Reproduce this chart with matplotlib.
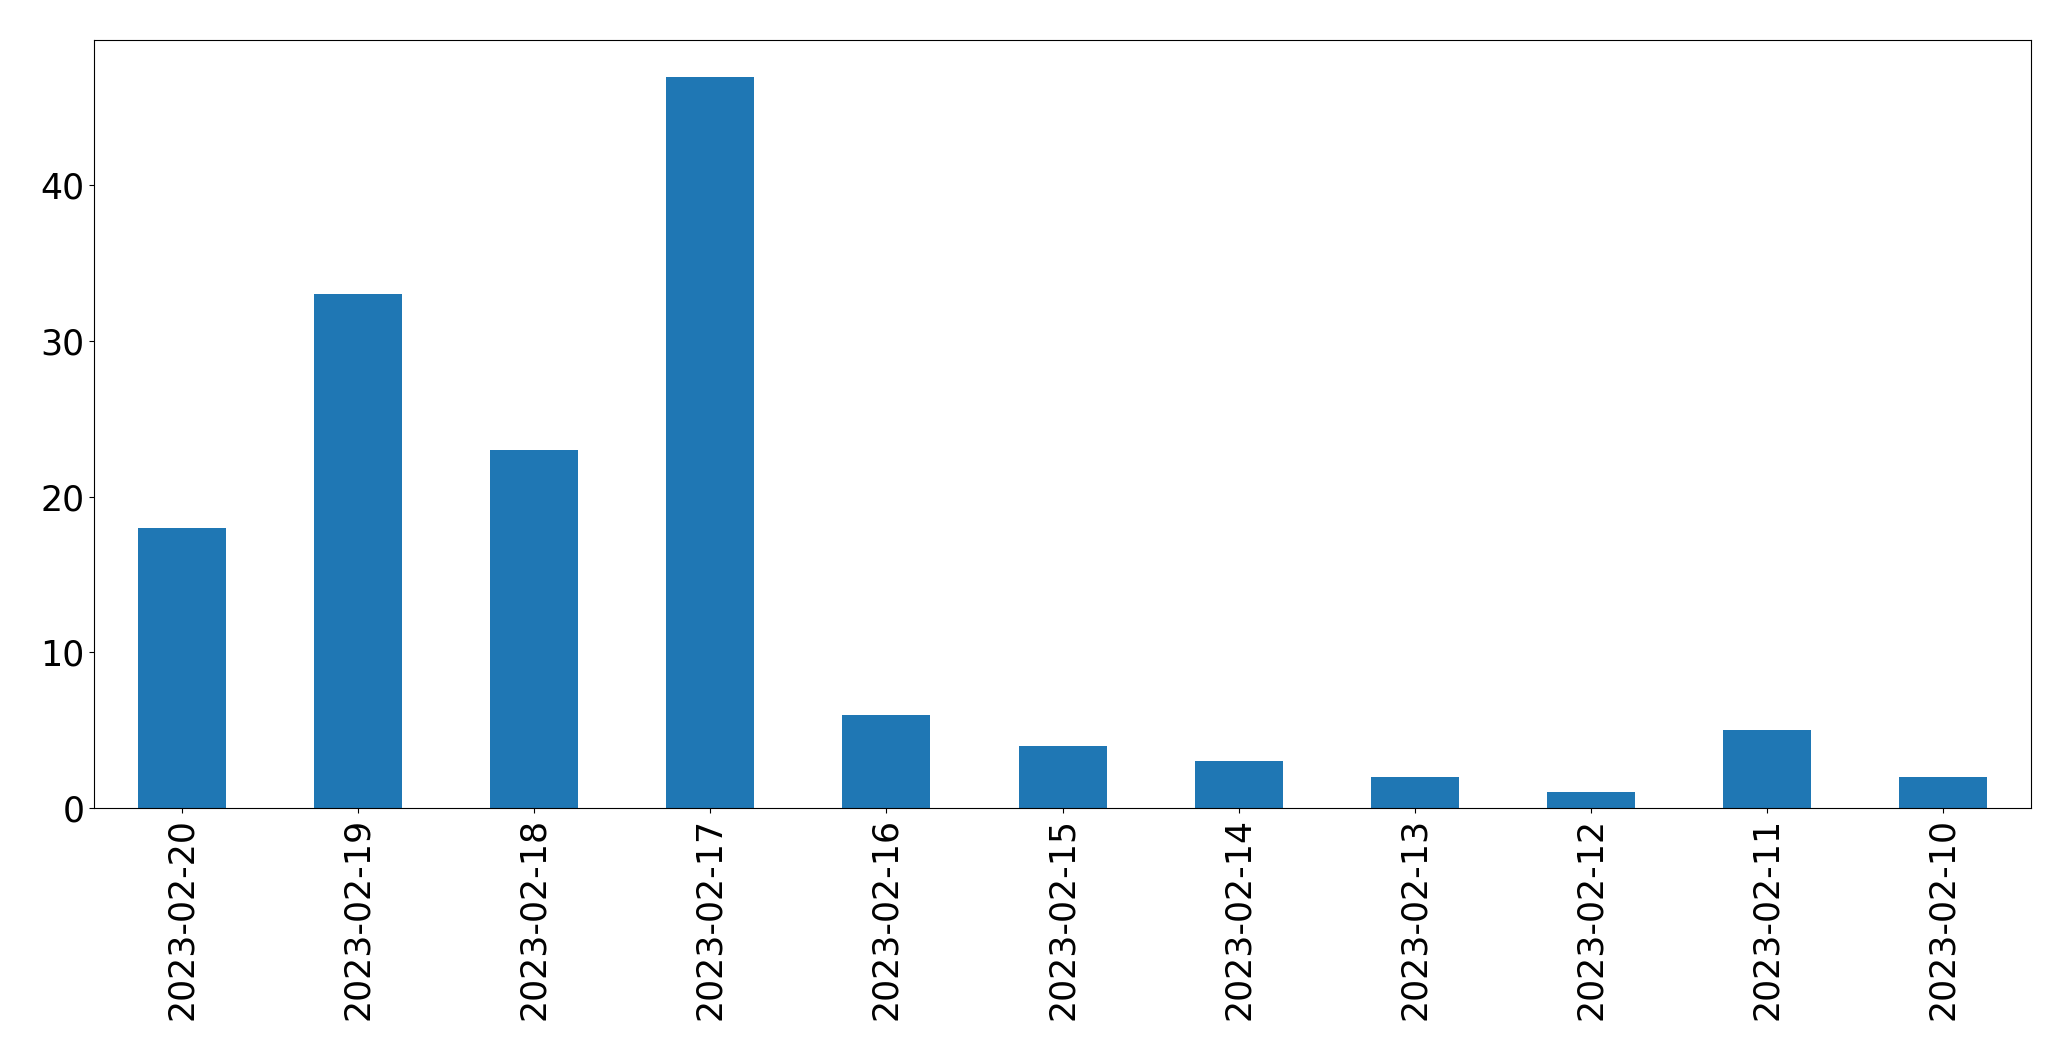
import matplotlib
matplotlib.use("Agg")
import matplotlib.pyplot as plt
import pandas as pd

dates = ["2023-02-20", "2023-02-19", "2023-02-18", "2023-02-17", "2023-02-16",
         "2023-02-15", "2023-02-14", "2023-02-13", "2023-02-12", "2023-02-11",
         "2023-02-10"]
counts = [18, 33, 23, 47, 6, 4, 3, 2, 1, 5, 2]

s = pd.Series(counts, index=dates)

fig, ax = plt.subplots(figsize=(20.71, 10.61), dpi=100)
s.plot(kind="bar", ax=ax, color="#1f77b4", fontsize=25)
fig.subplots_adjust(left=0.0454, right=0.9807, top=0.9623, bottom=0.2385)

fig.savefig("out.png", dpi=100)
